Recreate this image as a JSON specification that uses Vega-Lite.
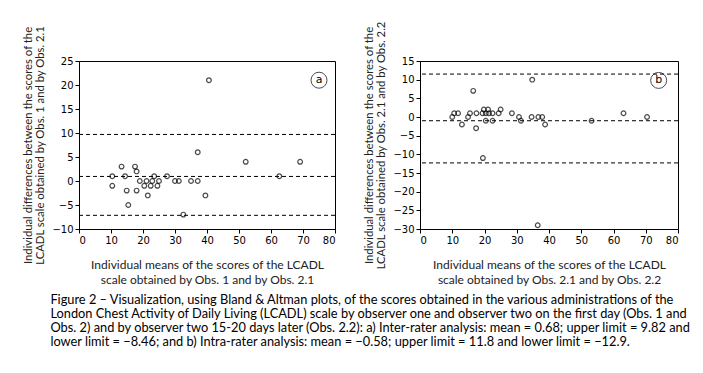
{
  "$schema": "https://vega.github.io/schema/vega-lite/v6.json",
  "background": "white",
  "padding": {"left": 22, "top": 20, "right": 5, "bottom": 5},
  "config": {
    "font": "Lato",
    "view": {"stroke": "black", "strokeWidth": 1},
    "axis": {
      "grid": false,
      "domainColor": "black",
      "tickColor": "black",
      "tickSize": 4,
      "labelFont": "DejaVu Sans",
      "labelFontSize": 10,
      "labelColor": "black",
      "labelOverlap": false,
      "titleFont": "Lato",
      "titleFontSize": 12,
      "titleFontWeight": "normal",
      "titleColor": "#222"
    }
  },
  "datasets": {
    "a_points": [
      {"m": 10.4, "d": 1}, {"m": 10.4, "d": -1}, {"m": 13.3, "d": 3}, {"m": 14.4, "d": 1},
      {"m": 14.9, "d": -2}, {"m": 15.4, "d": -5}, {"m": 17.5, "d": 3}, {"m": 18.0, "d": 2},
      {"m": 18.0, "d": -2}, {"m": 19.0, "d": 0}, {"m": 20.4, "d": -1}, {"m": 21.1, "d": 0},
      {"m": 21.5, "d": -3}, {"m": 22.4, "d": -1}, {"m": 22.9, "d": 0}, {"m": 23.5, "d": 1},
      {"m": 24.5, "d": -1}, {"m": 25.0, "d": 0}, {"m": 27.5, "d": 1}, {"m": 30.0, "d": 0},
      {"m": 31.2, "d": 0}, {"m": 32.6, "d": -7}, {"m": 35.0, "d": 0}, {"m": 37.1, "d": 6},
      {"m": 37.1, "d": 0}, {"m": 39.5, "d": -3}, {"m": 40.6, "d": 21}, {"m": 52.1, "d": 4},
      {"m": 62.6, "d": 1}, {"m": 69.1, "d": 4}
    ],
    "b_points": [
      {"m": 10.0, "d": 0}, {"m": 10.6, "d": 1}, {"m": 11.8, "d": 1}, {"m": 13.0, "d": -2},
      {"m": 14.9, "d": 0}, {"m": 15.5, "d": 1}, {"m": 16.5, "d": 7}, {"m": 17.5, "d": 1},
      {"m": 17.4, "d": -3}, {"m": 19.5, "d": -11}, {"m": 19.4, "d": 1}, {"m": 19.8, "d": 2},
      {"m": 20.4, "d": 1}, {"m": 20.4, "d": -1}, {"m": 21.1, "d": 2}, {"m": 21.4, "d": 1},
      {"m": 22.5, "d": 1}, {"m": 22.5, "d": -1}, {"m": 24.4, "d": 1}, {"m": 25.0, "d": 2},
      {"m": 28.5, "d": 1}, {"m": 30.7, "d": 0}, {"m": 31.3, "d": -1}, {"m": 34.8, "d": 10},
      {"m": 34.6, "d": 0}, {"m": 36.5, "d": -29}, {"m": 36.7, "d": 0}, {"m": 37.9, "d": 0},
      {"m": 38.8, "d": -2}, {"m": 53.2, "d": -1}, {"m": 63.1, "d": 1}, {"m": 70.4, "d": 0}
    ],
    "a_limits": [{"v": 9.7}, {"v": 0.95}, {"v": -7.15}],
    "b_limits": [{"v": 11.5}, {"v": -1.0}, {"v": -12.3}],
    "a_label": [{"label": "a"}],
    "b_label": [{"label": "b"}]
  },
  "spacing": 27,
  "hconcat": [
    {
      "width": 256,
      "height": 168,
      "layer": [
        {
          "data": {"name": "a_points"},
          "mark": {"type": "point", "shape": "circle", "filled": false, "color": "black", "size": 22, "strokeWidth": 1.2},
          "encoding": {
            "x": {"field": "m", "type": "quantitative", "scale": {"domain": [0, 80], "nice": false},
              "axis": {"tickCount": 8, "labelOverlap": false, "title": ["Individual means of the scores of the LCADL", "scale obtained by Obs. 1 and by Obs. 2.1"], "titleLineHeight": 15, "titlePadding": 14}},
            "y": {"field": "d", "type": "quantitative", "scale": {"domain": [-10, 25], "nice": false},
              "axis": {"tickCount": 7, "labelOverlap": false, "title": ["Individual differences between the scores of the", "LCADL scale obtained by Obs. 1 and by Obs. 2.1"], "titleFontSize": 11.3, "titleLineHeight": 12, "titlePadding": 6}}
          }
        },
        {
          "data": {"name": "a_limits"},
          "mark": {"type": "rule", "color": "black", "strokeWidth": 1, "strokeDash": [4, 3]},
          "encoding": {"y": {"field": "v", "type": "quantitative"}}
        },
        {
          "data": {"name": "a_label"},
          "mark": {"type": "point", "shape": "circle", "filled": false, "color": "black", "size": 256, "strokeWidth": 1},
          "encoding": {"x": {"datum": 75}, "y": {"datum": 21}}
        },
        {
          "data": {"name": "a_label"},
          "mark": {"type": "text", "font": "DejaVu Sans", "fontSize": 11, "color": "black", "baseline": "middle"},
          "encoding": {"x": {"datum": 75}, "y": {"datum": 21}, "text": {"field": "label"}}
        }
      ]
    },
    {
      "width": 258,
      "height": 168,
      "layer": [
        {
          "data": {"name": "b_points"},
          "mark": {"type": "point", "shape": "circle", "filled": false, "color": "black", "size": 22, "strokeWidth": 1.2},
          "encoding": {
            "x": {"field": "m", "type": "quantitative", "scale": {"domain": [0, 80], "nice": false},
              "axis": {"tickCount": 8, "labelOverlap": false, "title": ["Individual means of the scores of the LCADL", "scale obtained by Obs. 2.1 and by Obs. 2.2"], "titleLineHeight": 15, "titlePadding": 14}},
            "y": {"field": "d", "type": "quantitative", "scale": {"domain": [-30, 15], "nice": false},
              "axis": {"tickCount": 9, "labelOverlap": false, "title": ["Individual differences between the scores of the", "LCADL scale obtained by Obs. 2.1 and by Obs. 2.2"], "titleFontSize": 11.3, "titleLineHeight": 12, "titlePadding": 6}}
          }
        },
        {
          "data": {"name": "b_limits"},
          "mark": {"type": "rule", "color": "black", "strokeWidth": 1, "strokeDash": [4, 3]},
          "encoding": {"y": {"field": "v", "type": "quantitative"}}
        },
        {
          "data": {"name": "b_label"},
          "mark": {"type": "point", "shape": "circle", "filled": false, "color": "black", "size": 256, "strokeWidth": 1},
          "encoding": {"x": {"datum": 74}, "y": {"datum": 9.8}}
        },
        {
          "data": {"name": "b_label"},
          "mark": {"type": "text", "font": "DejaVu Sans", "fontSize": 11, "color": "black", "baseline": "middle"},
          "encoding": {"x": {"datum": 74}, "y": {"datum": 9.8}, "text": {"field": "label"}}
        }
      ]
    }
  ],
  "title": {
    "text": [
      "Figure 2 – Visualization, using Bland & Altman plots, of the scores obtained in the various administrations of the",
      "London Chest Activity of Daily Living (LCADL) scale by observer one and observer two on the first day (Obs. 1 and",
      "Obs. 2) and by observer two 15-20 days later (Obs. 2.2): a) Inter-rater analysis: mean = 0.68; upper limit = 9.82 and",
      "lower limit = −8.46; and b) Intra-rater analysis: mean = −0.58; upper limit = 11.8 and lower limit = −12.9."
    ],
    "orient": "bottom",
    "anchor": "start",
    "font": "Lato",
    "fontSize": 12.8,
    "fontWeight": "normal",
    "lineHeight": 14.2,
    "color": "black",
    "offset": 8,
    "dx": 28
  }
}
